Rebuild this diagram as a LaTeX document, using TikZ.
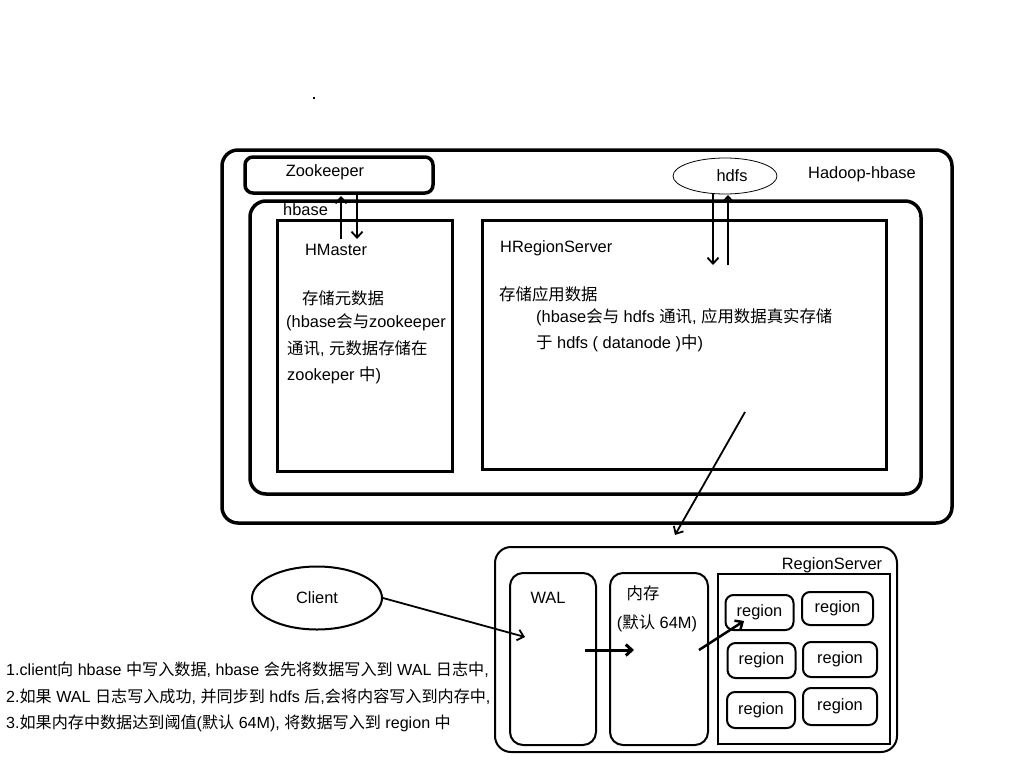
\documentclass[tikz,border=0pt]{standalone}
\usepackage{fontspec}
\setmainfont{Liberation Sans}
\newfontfamily\cjk{Noto Sans CJK SC}
\newcommand{\zh}[1]{{\cjk #1}}
\usetikzlibrary{arrows.meta,shapes.geometric}
\begin{document}
\begin{tikzpicture}[x=1pt,y=-1pt,
  every node/.style={font=\fontsize{16.4}{20}\selectfont},
  txt/.style={inner sep=0pt},
  note/.style={inner sep=0pt,anchor=west,font=\fontsize{16.1}{20}\selectfont},
  big/.style={draw,line width=3.5pt,rounded corners=16pt,minimum width=#1},
  sq/.style={draw,line width=3pt},
  soft/.style={draw,line width=2pt,rounded corners=13pt},
  reg/.style={draw,line width=2pt,rounded corners=8pt,minimum width=68pt,minimum height=35pt,inner sep=0pt},
  arr/.style={line width=1.8pt,-{Straight Barb[length=6pt,width=11pt]}}]
\useasboundingbox (0,0) rectangle (1024,768);
\fill (313,97) rectangle (315,99);
% outer boxes
\node[big=730pt,minimum height=373pt] (outer) at (587,336.5) {};
\node[draw,line width=3.5pt,rounded corners=8pt,minimum width=188pt,minimum height=36pt] (zk) at (339,175) {};
\node[big=671pt,minimum height=293pt] (hbase) at (585.5,347.5) {};
\node[sq,minimum width=175pt,minimum height=251pt] (hm) at (364.5,345.5) {};
\node[sq,minimum width=404pt,minimum height=249pt] (hrs) at (684,344.5) {};
\node[draw,ellipse,line width=0.8pt,minimum width=104pt,minimum height=36pt] (hdfs) at (725,176) {};
% texts upper
\node[txt] (zkt) at (325,172) {Zookeeper};
\node[txt,anchor=west] (hbt) at (283,210) {hbase};
\node[txt] (hmt) at (336,250) {HMaster};
\node[txt] (hm1) at (343,298) {\zh{存储元数据}};
\node[txt,anchor=west] (hm2) at (286,322) {(hbase\zh{会与}zookeeper};
\node[txt,anchor=west] (hm3) at (287,349) {\zh{通讯}, \zh{元数据存储在}};
\node[txt,anchor=west] (hm4) at (287,375) {zookeper \zh{中})};
\node[txt,anchor=west] (hrst) at (500,248) {HRegionServer};
\node[txt,anchor=west] (hr1) at (499,294) {\zh{存储应用数据}};
\node[txt,anchor=west] (hr2) at (536,317) {(hbase\zh{会与} hdfs \zh{通讯}, \zh{应用数据真实存储}};
\node[txt,anchor=west] (hr3) at (536,343) {\zh{于} hdfs ( datanode )\zh{中})};
\node[txt] (hdfst) at (732,176) {hdfs};
\node[txt] (hadt) at (862,174) {Hadoop-hbase};
% zk arrows
\coordinate (z1a) at (341,239);
\coordinate (z1b) at (341,196);
\coordinate (z2a) at (357,195);
\coordinate (z2b) at (357,239);
\draw[arr] (z1a) -- (z1b);
\draw[arr] (z2a) -- (z2b);
% hdfs arrows
\coordinate (h1a) at (713,193);
\coordinate (h1b) at (713,265);
\coordinate (h2a) at (728,265);
\coordinate (h2b) at (728,195);
\draw[arr] (h1a) -- (h1b);
\draw[arr] (h2a) -- (h2b);
% lower part
\node[soft,rounded corners=16pt,minimum width=402pt,minimum height=205pt] (rs) at (696,649.5) {};
\node[soft,minimum width=86pt,minimum height=172pt] (wal) at (553,659) {};
\node[soft,minimum width=98pt,minimum height=172pt] (mem) at (659,659) {};
\node[draw,line width=1.5pt,minimum width=172pt,minimum height=170pt] (rc) at (804,659) {};
\node[reg] (r1) at (759.5,612.5) {region};
\node[reg,minimum width=71pt,minimum height=33pt] (r2) at (837.5,608.5) {region};
\node[reg] (r3) at (761.5,660.5) {region};
\node[reg,minimum width=74pt] (r4) at (840,659.5) {region};
\node[reg,minimum height=36pt] (r5) at (761,710) {region};
\node[reg,minimum width=74pt,minimum height=37pt] (r6) at (840,706.5) {region};
\node[txt] (rst) at (832,565) {RegionServer};
\node[txt] (walt) at (548,598) {WAL};
\node[txt] (memt1) at (643,593) {\zh{内存}};
\node[txt] (memt2) at (657,623) {(\zh{默认} 64M)};
\node[draw,ellipse,line width=2pt,minimum width=130pt,minimum height=63pt] (client) at (317,598) {Client};
% big diagonal arrow
\coordinate (d1) at (745,412);
\coordinate (d2) at (675,535);
\draw[arr] (d1) -- (d2);
% lower arrows
\coordinate (c2) at (525,637);
\draw[arr] (client.east) -- (c2);
\coordinate (w1) at (585,650);
\coordinate (w2) at (634,650);
\draw[arr,line width=3pt] (w1) -- (w2);
\coordinate (m1) at (699,650);
\coordinate (m2) at (744,621);
\draw[arr,line width=2.5pt] (m1) -- (m2);
% notes
\node[note] (n1) at (6,670) {1.client\zh{向} hbase \zh{中写入数据}, hbase \zh{会先将数据写入到} WAL \zh{日志中},};
\node[note] (n2) at (6,697) {2.\zh{如果} WAL \zh{日志写入成功}, \zh{并同步到} hdfs \zh{后},\zh{会将内容写入到内存中},};
\node[note] (n3) at (6,723) {3.\zh{如果内存中数据达到阈值}(\zh{默认} 64M), \zh{将数据写入到} region \zh{中}};
\end{tikzpicture}
\end{document}
